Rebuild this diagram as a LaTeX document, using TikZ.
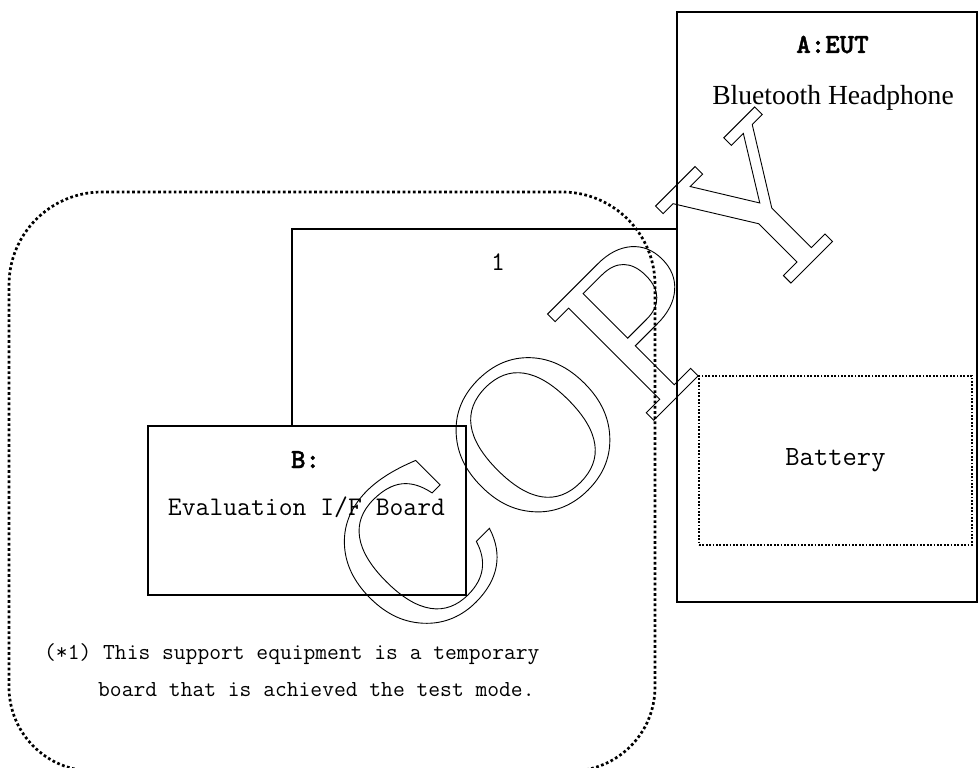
\documentclass[tikz,border=0pt]{standalone}
\usepackage{fontspec}
\setmainfont{Liberation Serif}
\newfontfamily\stampfont[Kerning=Off]{DejaVu Serif}
\newfontfamily\boldtt[Extension=.otf, FakeBold=1.5]{lmmonolt10-bold}
\usetikzlibrary{positioning}

\begin{document}
\begin{tikzpicture}[
    x=1pt,
    y=-1pt,
    box/.style={draw, line width=1.8pt, inner sep=0pt},
    wire/.style={line width=1.8pt},
    grp/.style={line width=2.7pt, dash pattern=on 2.7pt off 2.5pt},
    cell/.style={draw, line width=1.5pt, dash pattern=on 1.8pt off 1.6pt, inner sep=0pt,
        font=\fontsize{27.8}{30}\selectfont\ttfamily},
    hdr/.style={font=\fontsize{27.6}{30}\selectfont\boldtt, inner sep=0pt},
    ttlbl/.style={font=\fontsize{26.9}{30}\selectfont\ttfamily, inner sep=0pt},
    note/.style={font=\fontsize{22.9}{37}\selectfont\ttfamily, inner sep=0pt, align=left},
    stamp/.style={font=\fontsize{206}{206}\stampfont, inner sep=0pt}
]
\useasboundingbox (0,0) rectangle (978,768);

% support equipment area
\draw[grp] (330,771) [rounded corners=84pt] -- (9,771) [rounded corners=93pt] -- (9,192)
    -- (655,192) [rounded corners=84pt] -- (655,771) -- cycle;

% EUT
\node[box, minimum width=300pt, minimum height=590pt] (eut) at (827,307) {};
\node[hdr, anchor=base] (eutid) at (832.5,53) {A:EUT};
\node[font=\fontsize{27.6}{32}\selectfont, inner sep=0pt, anchor=base] (eutname) at (833,105) {Bluetooth Headphone};
\node[cell, minimum width=273pt, minimum height=169pt] (battery) at (835.5,460.5) {Battery};

% evaluation board
\node[box, minimum width=318pt, minimum height=169pt] (board) at (307,510.5) {};
\node[hdr, anchor=base] (boardid) at (305.5,468) {B:};
\node[ttlbl, anchor=base] (boardname) at (306.5,515.5) {Evaluation I/F Board};

% cable 1
\coordinate (knee) at (292,229);
\draw[wire] (eut.west |- knee) -- (knee) -- (board.north -| knee);
\node[ttlbl, anchor=base] (cablenum) at (498,270) {1};

\node[note, anchor=base west] (footnote) at (44,696)
    {(*1) This support equipment is a temporary\\\hspace*{54pt}board that is achieved the test mode.};

% watermark, outline only
\node[stamp, rotate=45, anchor=base west] (copymark) at (414.7,659.3)
    {\special{pdf:literal direct 1 Tr 0.9 w}COP\kern28pt Y\special{pdf:literal direct 0 Tr}};
\end{tikzpicture}
\end{document}
